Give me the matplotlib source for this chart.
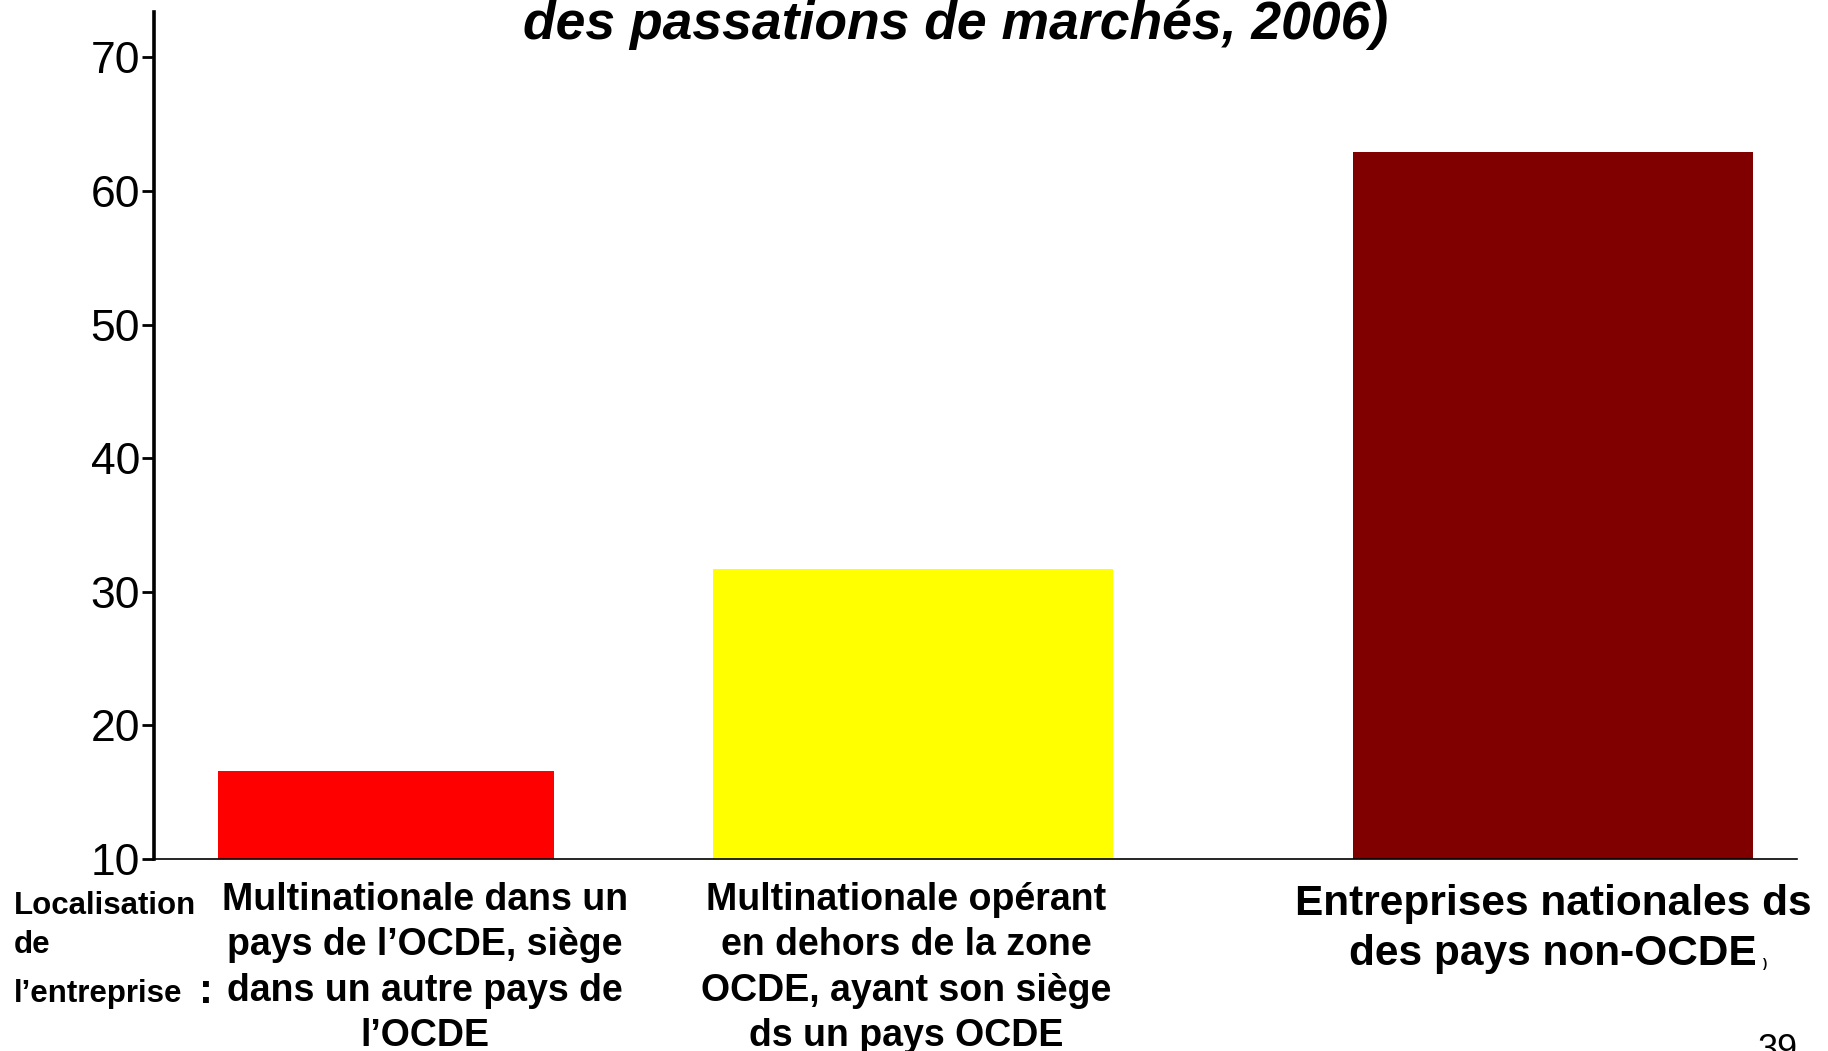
import matplotlib
matplotlib.use("Agg")
import matplotlib.pyplot as plt

categories = [
    "Multinationale dans un\npays de l\u2019OCDE, si\u00e8ge\ndans un autre pays de\nl\u2019OCDE",
    "Multinationale op\u00e9rant\nen dehors de la zone\nOCDE, ayant son si\u00e8ge\nds un pays OCDE",
    "Entreprises nationales ds\ndes pays non-OCDE",
]
values = [16.6, 31.7, 62.9]
colors = ["#FF0000", "#FFFF00", "#800000"]
yticks = [10, 20, 30, 40, 50, 60, 70]
title_text = "des passations de march\u00e9s, 2006)"

# layout (axes-fraction positions of bars)
centers = [0.1412, 0.4619, 0.8515]
widths = [0.2045, 0.2437, 0.2434]

plt.rcParams['font.family'] = ['Liberation Sans', 'DejaVu Sans']

W, H = 1828, 1051
fig = plt.figure(figsize=(W / 100, H / 100), dpi=100)
ax = fig.add_axes([154 / W, 1 - 859 / H, (1797 - 154) / W, (859 - 12) / H])

ax.bar(centers, [v - 10 for v in values], bottom=10, width=widths, color=colors)
ax.set_xlim(0, 1)
ax.set_ylim(10, 73.4)
ax.set_yticks(yticks)
ax.set_yticklabels([str(t) for t in yticks], fontsize=32)
ax.set_xticks([])
ax.tick_params(axis='y', direction='out', length=9, width=2, pad=1)
for s in ['top', 'right']:
    ax.spines[s].set_visible(False)
ax.spines['left'].set_linewidth(2.6)
ax.spines['bottom'].set_linewidth(1.2)

# title fragment
fig.text(956 / W, 1 - 39 / H, title_text, ha='center', va='baseline',
         fontsize=38.5, fontweight='bold', fontstyle='italic')

# category labels
label_x = [425, 906, 1553]
for i, (lab, x) in enumerate(zip(categories, label_x)):
    if i < 2:
        fig.text(x / W, 1 - 968 / H, lab, ha='center', va='center',
                 fontsize=27, fontweight='bold', linespacing=1.33)
    else:
        fig.text(x / W, 1 - 929 / H, lab, ha='center', va='center',
                 fontsize=30.5, fontweight='bold', linespacing=1.32)
fig.text(1763 / W, 1 - 964 / H, ")", fontsize=9, fontweight='bold', va='center')

# left row header
fig.text(14 / W, 1 - 906 / H, "Localisation", fontsize=22.5, fontweight='bold', va='center')
fig.text(14 / W, 1 - 945 / H, "de", fontsize=22.5, fontweight='bold', va='center')
fig.text(14 / W, 1 - 994 / H, "l\u2019entreprise", fontsize=22.5, fontweight='bold', va='center')
fig.text(206 / W, 1 - 992 / H, ":", fontsize=30, fontweight='bold', va='center', ha='center')

# slide number
fig.text(1778 / W, 1 - 1050 / H, "39", fontsize=26, ha='center', va='center')

fig.savefig("out.png", dpi=100)
